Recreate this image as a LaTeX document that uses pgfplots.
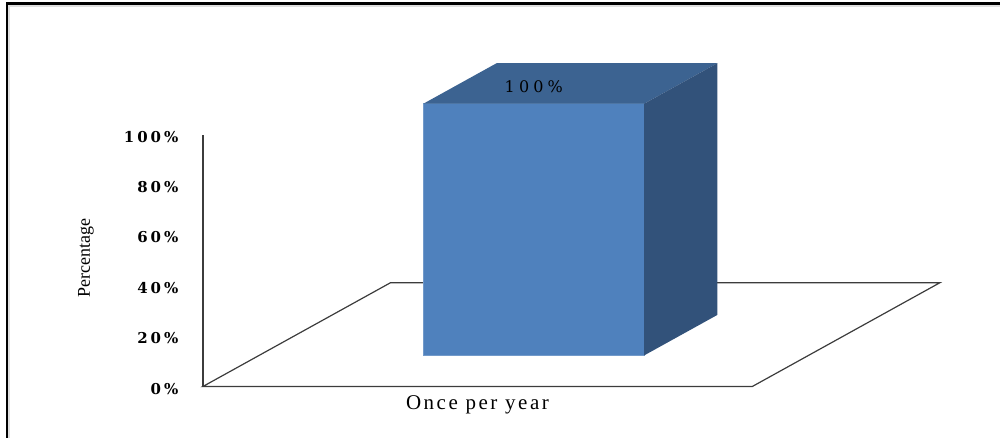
\documentclass[border=0pt]{standalone}
\usepackage{fontspec}
\setmainfont{Liberation Serif}
\newfontfamily\tickfont[LetterSpace=20]{DejaVu Serif}
\newfontfamily\valfont[LetterSpace=26]{DejaVu Serif}
\newfontfamily\catfont[LetterSpace=12]{Liberation Serif}
\usepackage{pgfplots}
\usepackage{pgfplotstable}
\pgfplotsset{compat=1.18}

\definecolor{barfront}{RGB}{79,129,189}
\definecolor{bartop}{RGB}{60,99,145}
\definecolor{barside}{RGB}{50,82,122}
\definecolor{floorline}{RGB}{60,60,60}

% frequency of the activity (percent of respondents)
\pgfplotstableread{
category value
{Once per year} 100
}\freqdata

\begin{document}
\begin{tikzpicture}
\pgfplotstablegetelem{0}{value}\of\freqdata
\let\barval\pgfplotsretval
% oblique depth of the floor, in axis units
\def\depthx{188}
\def\depthy{41.27}
% bar placed centred on the floor, 0.30--0.69 of its depth
\pgfmathsetmacro\bxl{478+0.30*\depthx-110.5}
\pgfmathsetmacro\bxr{478+0.30*\depthx+110.5}
\pgfmathsetmacro\bbase{0.30*\depthy}
\pgfmathsetmacro\btop{\bbase+\barval}
\pgfmathsetmacro\ddx{0.39*\depthx}
\pgfmathsetmacro\ddy{0.39*\depthy}
\pgfmathsetmacro\bxrr{\bxr+\ddx}
\pgfmathsetmacro\bxlr{\bxl+\ddx}
\pgfmathsetmacro\bbaser{\bbase+\ddy}
\pgfmathsetmacro\btopr{\btop+\ddy}
\pgfmathsetmacro\fxr{753+\depthx}
\pgfmathsetmacro\fxl{203+\depthx}
\pgfmathsetmacro\lblx{(\bxl+\bxr)/2}
\pgfmathsetmacro\lbly{\btop+6.6}
\begin{axis}[
  scale only axis,
  width=275pt, height=126pt,
  xmin=203, xmax=753, ymin=0, ymax=100,
  clip=false,
  axis line style={draw=none},
  major tick length=0pt,
  ytick={0,20,40,60,80,100},
  yticklabels={0\%,20\%,40\%,60\%,80\%,100\%},
  yticklabel style={font=\tickfont\bfseries\fontsize{7.5}{9}\selectfont,
    anchor=east, inner sep=0pt, xshift=-12pt, yshift=-1pt},
  xtick={478},
  xticklabels={Once per year},
  xticklabel style={font=\catfont\fontsize{10.5}{12}\selectfont,
    anchor=north, inner sep=0pt, yshift=-4.5pt},
  ylabel={Percentage},
  ylabel style={font=\fontsize{9}{10}\selectfont,
    at={(rel axis cs:-0.2127,0.512)}, anchor=center},
]
% page size and outer frame
\path (axis cs:0,-20.24) rectangle (axis cs:1001,153.57);
\draw[gray!25, line width=1pt] (axis cs:9.5,-20.24) -- (axis cs:9.5,151.2) -- (axis cs:1001,151.2);
\draw[black, line width=1.1pt] (axis cs:7,-20.24) -- (axis cs:7,152.2) -- (axis cs:1001,152.2);

% floor of the 3-D plot area
\addplot[floorline, line width=0.6pt, mark=none]
  coordinates {(203,0) (753,0) (\fxr,\depthy) (\fxl,\depthy)} -- cycle;
% value axis
\addplot[floorline, line width=0.8pt, mark=none]
  coordinates {(203,0) (203,100)};

% the bar: front, top and side faces
\addplot[fill=barfront, draw=barfront!80!white, line width=0.3pt, mark=none]
  coordinates {(\bxl,\bbase) (\bxr,\bbase) (\bxr,\btop) (\bxl,\btop)} -- cycle;
\addplot[fill=bartop, draw=none, mark=none]
  coordinates {(\bxl,\btop) (\bxr,\btop) (\bxrr,\btopr) (\bxlr,\btopr)} -- cycle;
\addplot[fill=barside, draw=none, mark=none]
  coordinates {(\bxr,\bbase) (\bxrr,\bbaser) (\bxrr,\btopr) (\bxr,\btop)} -- cycle;

\node[font=\valfont\fontsize{8}{9}\selectfont, inner sep=0pt]
  at (axis cs:\lblx,\lbly) {\pgfmathprintnumber[assume math mode=true]{\barval}\%};
\end{axis}
\end{tikzpicture}
\end{document}
